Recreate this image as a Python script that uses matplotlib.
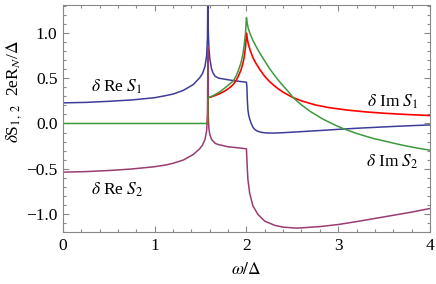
import matplotlib.pyplot as plt
from matplotlib.ticker import MultipleLocator

plt.rcParams['font.family'] = ['Liberation Serif', 'DejaVu Serif']
plt.rcParams['mathtext.fontset'] = 'stix'

# delta Re S1 (blue)
x_re1 = [0, 0.25, 0.5, 0.75, 1.0, 1.13, 1.2, 1.31, 1.42, 1.49, 1.52, 1.548, 1.566, 1.575, 1.58,
         1.583, 1.59, 1.60, 1.62, 1.64, 1.66, 1.7, 1.76, 1.85, 1.95, 2.0,
         2.005, 2.01, 2.016, 2.025, 2.035, 2.05, 2.07, 2.09, 2.12, 2.16, 2.22, 2.3, 2.4,
         2.6, 2.8, 3.0, 3.2, 3.4, 3.6, 3.8, 4.0]
y_re1 = [0.228, 0.233, 0.245, 0.26, 0.285, 0.31, 0.325, 0.365, 0.43, 0.505, 0.55, 0.63, 0.75, 0.95, 1.6,
         1.05, 0.85, 0.72, 0.6, 0.55, 0.52, 0.5, 0.49, 0.475, 0.462, 0.456,
         0.40, 0.25, 0.15, 0.09, 0.05, 0.005, -0.04, -0.066, -0.085, -0.098, -0.105, -0.106, -0.102,
         -0.09, -0.078, -0.065, -0.053, -0.043, -0.033, -0.024, -0.016]

# delta Re S2 (purple)
x_re2 = [0, 0.25, 0.5, 0.75, 1.0, 1.13, 1.2, 1.31, 1.42, 1.49, 1.52, 1.548, 1.566, 1.575, 1.58,
         1.583, 1.59, 1.60, 1.62, 1.66, 1.69, 1.8, 1.9, 2.0,
         2.005, 2.01, 2.016, 2.035, 2.07, 2.125, 2.2, 2.31, 2.4, 2.55,
         2.8, 3.0, 3.2, 3.4, 3.6, 3.8, 4.0]
y_re2 = [-0.538, -0.532, -0.52, -0.503, -0.478, -0.457, -0.44, -0.405, -0.343, -0.28, -0.24, -0.177, -0.08, 0.1, 0.85,
         0.1, -0.05, -0.12, -0.177, -0.22, -0.232, -0.258, -0.268, -0.28,
         -0.40, -0.51, -0.62, -0.77, -0.91, -1.005, -1.08, -1.127, -1.146, -1.157,
         -1.14, -1.117, -1.085, -1.05, -1.015, -0.98, -0.94]

# delta Im S1 (red)
x_im1 = [0, 1.577, 1.58, 1.62, 1.66, 1.71, 1.766, 1.81, 1.856, 1.89, 1.91, 1.94, 1.96, 1.975, 1.99, 2.0,
         2.01, 2.02, 2.04, 2.07, 2.1, 2.15, 2.2, 2.25, 2.3, 2.35, 2.4, 2.5, 2.6, 2.75, 2.9,
         3.1, 3.3, 3.5, 3.75, 4.0]
y_im1 = [0, 0, 0.284, 0.295, 0.31, 0.33, 0.36, 0.39, 0.43, 0.48, 0.52, 0.59, 0.66, 0.73, 0.85, 1.0,
         0.93, 0.88, 0.81, 0.73, 0.67, 0.59, 0.52, 0.465, 0.42, 0.38, 0.345, 0.29, 0.25, 0.205, 0.175,
         0.148, 0.128, 0.113, 0.099, 0.088]

# delta Im S2 (green)
x_im2 = [0, 1.577, 1.58, 1.62, 1.66, 1.71, 1.766, 1.81, 1.856, 1.89, 1.91, 1.94, 1.96, 1.975, 1.99, 2.0,
         2.01, 2.02, 2.04, 2.07, 2.1, 2.15, 2.2, 2.25, 2.3, 2.35, 2.4, 2.45, 2.51, 2.6, 2.7,
         2.84, 2.95, 3.05, 3.2, 3.38, 3.55, 3.7, 3.85, 4.0]
y_im2 = [0, 0, 0.284, 0.30, 0.32, 0.35, 0.394, 0.43, 0.47, 0.53, 0.58, 0.67, 0.76, 0.86, 1.0, 1.17,
         1.10, 1.05, 0.99, 0.92, 0.86, 0.77, 0.69, 0.61, 0.54, 0.475, 0.415, 0.36, 0.285, 0.205, 0.13,
         0.045, -0.01, -0.055, -0.11, -0.165, -0.205, -0.24, -0.27, -0.295]

fig = plt.figure(figsize=(4.36, 2.84), dpi=100)
ax = fig.add_axes([0.1445, 0.183, 0.8415, 0.7995])

ax.plot(x_re1, y_re1, color='#3d3d99', lw=1.1)
ax.plot(x_re2, y_re2, color='#993d71', lw=1.1)
# red zero stretch is hidden under the green one
ax.plot(x_im1[1:], y_im1[1:], color='#ff0000', lw=1.2)
ax.plot(x_im2, y_im2, color='#3d993d', lw=1.1)

ax.set_xlim(0, 4)
ax.set_ylim(-1.2, 1.31)

# curve labels
ax.text(0.59, 0.40, r'$\delta$ Re $S_1$', fontsize=12.5, ha='center', va='center')
ax.text(0.59, -0.73, r'$\delta$ Re $S_2$', fontsize=12.5, ha='center', va='center')
ax.text(3.59, 0.24, r'$\delta$ Im $S_1$', fontsize=12.5, ha='center', va='center')
ax.text(3.59, -0.42, r'$\delta$ Im $S_2$', fontsize=12.5, ha='center', va='center')

ax.xaxis.set_major_locator(MultipleLocator(1))
ax.xaxis.set_minor_locator(MultipleLocator(0.2))
ax.yaxis.set_minor_locator(MultipleLocator(0.1))
ax.set_yticks([-1.0, -0.5, 0.0, 0.5, 1.0])
ax.set_yticklabels(['\u22121.0', '\u22120.5', '0.0', '0.5', '1.0'])
ax.tick_params(which='both', direction='in', top=True, right=True, color='#888888',
               labelsize=12.5, width=0.8)
ax.tick_params(which='major', length=4.5, pad=4)
ax.tick_params(which='minor', length=2.5)
for s in ax.spines.values():
    s.set_color('#888888')
    s.set_linewidth(0.8)

ax.set_xlabel(r'$\omega/\Delta$', fontsize=12.5, labelpad=6)
ax.set_ylabel(r'$\delta$S$_{1,\ 2}$  2eR$_N$/$\Delta$', fontsize=12.5)
ax.yaxis.set_label_coords(-0.105, 0.62)

plt.savefig('out.png', dpi=100)
